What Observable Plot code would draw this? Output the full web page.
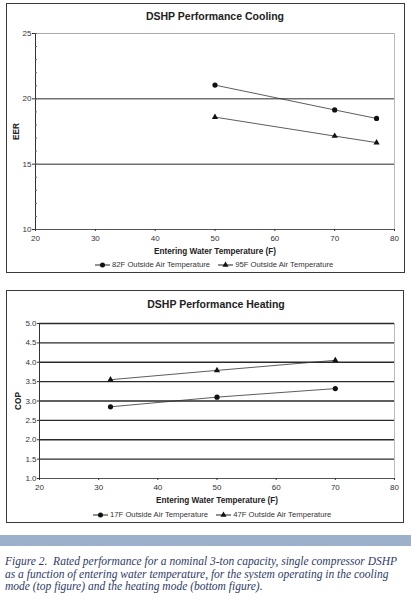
<!DOCTYPE html>
<html>
<head>
<meta charset="utf-8">
<script src="https://cdn.jsdelivr.net/npm/d3@7"></script>
<script src="https://cdn.jsdelivr.net/npm/@observablehq/plot@0.6"></script>
<style>
  html, body { margin: 0; padding: 0; background: #fff; }
  body { position: relative; width: 411px; height: 599px; overflow: hidden; font-family: "Liberation Sans", Arial, sans-serif; }
  .frame { position: absolute; box-sizing: border-box; border: 1.5px solid #3a3a3a; }
  .chart { position: absolute; }
  .title { position: absolute; font-weight: bold; font-size: 10.5px; color: #222; text-align: center; white-space: nowrap; transform: translateX(-50%); }
  .legend { position: absolute; display: flex; align-items: center; font-size: 7.7px; color: #333; white-space: nowrap; }
  .legend .item { display: flex; align-items: center; margin-right: 8px; }
  .legend svg { margin-right: 2px; }
  .band { position: absolute; left: 0; top: 535px; width: 411px; height: 11px; background: #9db0cb; }
  .caption { position: absolute; left: 5px; top: 555px; font-family: "Liberation Serif", "DejaVu Serif", serif; font-style: italic; font-size: 11.5px; line-height: 12.6px; color: #2e3a6a; white-space: pre; }
  g[aria-label="x-axis label"] text, g[aria-label="y-axis label"] text { font-weight: bold; font-size: 8.2px; fill: #222; }
</style>
</head>
<body>
<div class="frame" style="left:6px;top:3px;width:399px;height:270px;"></div>
<div class="frame" style="left:6px;top:290px;width:398px;height:233px;"></div>
<div class="title" style="left:215px;top:10px;">DSHP Performance Cooling</div>
<div class="title" style="left:216px;top:298px;">DSHP Performance Heating</div>
<div id="cool" class="chart" style="left:6px;top:3px;"></div>
<div id="heat" class="chart" style="left:6px;top:290px;"></div>
<div id="legCool" class="legend" style="left:95px;top:260px;"></div>
<div id="legHeat" class="legend" style="left:93px;top:510px;"></div>
<div class="band"></div>
<div class="caption">Figure 2.  Rated performance for a nominal 3-ton capacity, single compressor DSHP
as a function of entering water temperature, for the system operating in the cooling
mode (top figure) and the heating mode (bottom figure).</div>
<script>
// ---- Data ----
const coolWaterTemp = [50, 70, 77];
const eer82F = [21.05, 19.15, 18.5];
const eer95F = [18.6, 17.15, 16.65];
const coolSeries = ["82F Outside Air Temperature", "95F Outside Air Temperature"];

const heatWaterTemp = [32, 50, 70];
const cop17F = [2.85, 3.1, 3.32];
const cop47F = [3.55, 3.79, 4.05];
const heatSeries = ["17F Outside Air Temperature", "47F Outside Air Temperature"];

const xTicks = [20, 30, 40, 50, 60, 70, 80];
const eerTicks = [10, 15, 20, 25];
const eerMinor = d3.range(10, 26, 1);
const copTicks = [1.0, 1.5, 2.0, 2.5, 3.0, 3.5, 4.0, 4.5, 5.0];

const symbols = ["circle", "triangle"];

function rows(xs, ys, name, sym) {
  return xs.map((x, i) => ({x, y: ys[i], series: name, sym}));
}

const coolData = [
  ...rows(coolWaterTemp, eer82F, coolSeries[0], symbols[0]),
  ...rows(coolWaterTemp, eer95F, coolSeries[1], symbols[1])
];
const heatData = [
  ...rows(heatWaterTemp, cop17F, heatSeries[0], symbols[0]),
  ...rows(heatWaterTemp, cop47F, heatSeries[1], symbols[1])
];

const baseStyle = {fontFamily: "Liberation Sans, Arial, sans-serif", fontSize: "8px", color: "#333", background: "transparent", overflow: "visible"};

function seriesMarks(data) {
  return [
    Plot.line(data, {x: "x", y: "y", z: "series", stroke: "#333", strokeWidth: 0.8}),
    Plot.dot(data.filter(d => d.sym === "circle"), {x: "x", y: "y", symbol: "circle", r: 2.6, fill: "#111", stroke: "none"}),
    Plot.dot(data.filter(d => d.sym === "triangle"), {x: "x", y: "y", symbol: "triangle", r: 2.3, fill: "#111", stroke: "none"})
  ];
}

const cool = Plot.plot({
  width: 399, height: 255,
  marginLeft: 29, marginRight: 11, marginTop: 30, marginBottom: 29,
  style: baseStyle,
  x: {domain: [20, 80]},
  y: {domain: [10, 25]},
  marks: [
    Plot.ruleY([15, 20], {stroke: "#2a2a2a", strokeWidth: 1}),
    Plot.ruleY([25], {stroke: "#aaa", strokeWidth: 1}),
    Plot.ruleX([80], {stroke: "#bbb", strokeWidth: 1}),
    Plot.ruleY([10], {stroke: "#555", strokeWidth: 1}),
    Plot.ruleX([20], {stroke: "#333", strokeWidth: 1}),
    Plot.axisY({ticks: eerMinor, tickSize: -2, text: null, label: null, stroke: "#666"}),
    Plot.axisY({ticks: eerTicks, tickSize: 3, tickPadding: 1, tickFormat: d3.format("d"),
      label: "EER", labelAnchor: "center", labelArrow: "none", labelOffset: 22}),
    Plot.axisX({ticks: xTicks, tickSize: 2, tickPadding: 4, tickFormat: d3.format("d"),
      label: "Entering Water Temperature (F)", labelAnchor: "center", labelArrow: "none", labelOffset: 24}),
    ...seriesMarks(coolData)
  ]
});
document.getElementById("cool").appendChild(cool);

const heat = Plot.plot({
  width: 399, height: 220,
  marginLeft: 33, marginRight: 11, marginTop: 33, marginBottom: 32,
  style: baseStyle,
  x: {domain: [20, 80]},
  y: {domain: [1, 5]},
  marks: [
    Plot.ruleY(copTicks.slice(1), {stroke: "#2a2a2a", strokeWidth: 1.3}),
    Plot.ruleX([80], {stroke: "#bbb", strokeWidth: 1}),
    Plot.ruleY([1], {stroke: "#555", strokeWidth: 1}),
    Plot.ruleX([20], {stroke: "#333", strokeWidth: 1}),
    Plot.axisY({ticks: copTicks, tickSize: 2, tickPadding: 1, tickFormat: d3.format(".1f"),
      label: "COP", labelAnchor: "center", labelArrow: "none", labelOffset: 24}),
    Plot.axisX({ticks: xTicks, tickSize: 2, tickPadding: 4, tickFormat: d3.format("d"),
      label: "Entering Water Temperature (F)", labelAnchor: "center", labelArrow: "none", labelOffset: 24}),
    ...seriesMarks(heatData)
  ]
});
document.getElementById("heat").appendChild(heat);

function legend(el, names) {
  names.forEach((name, i) => {
    const item = document.createElement("div");
    item.className = "item";
    const sw = d3.create("svg").attr("width", 15).attr("height", 8);
    sw.append("line").attr("x1", 0).attr("x2", 15).attr("y1", 4).attr("y2", 4).attr("stroke", "#222").attr("stroke-width", 1);
    const sym = symbols[i] === "circle" ? d3.symbolCircle : d3.symbolTriangle;
    sw.append("path").attr("d", d3.symbol(sym, symbols[i] === "circle" ? 20 : 16)()).attr("transform", "translate(7.5,4)").attr("fill", "#111");
    item.appendChild(sw.node());
    const t = document.createElement("span");
    t.textContent = name;
    item.appendChild(t);
    el.appendChild(item);
  });
}
legend(document.getElementById("legCool"), coolSeries);
legend(document.getElementById("legHeat"), heatSeries);
</script>
</body>
</html>
